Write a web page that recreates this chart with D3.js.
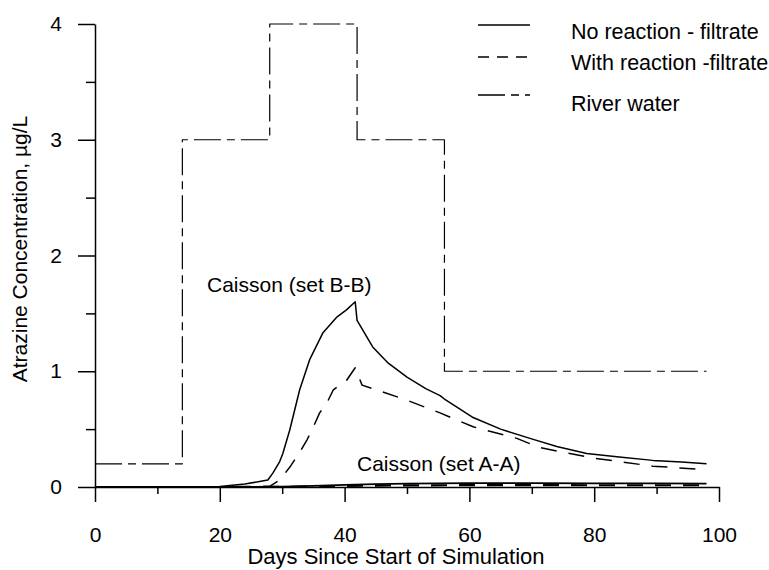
<!DOCTYPE html>
<html><head><meta charset="utf-8">
<script src="https://cdn.jsdelivr.net/npm/d3@7"></script>
<style>
body{margin:0;background:#fff;}
svg{display:block;font-family:"Liberation Sans",Arial,sans-serif;}
</style></head>
<body><svg id="c" width="769" height="570"></svg>
<script>
// Data
const riverDays = [0, 14, 14, 28, 28, 42, 42, 56, 56, 98];
const riverVals = [0.2, 0.2, 3, 3, 4, 4, 3, 3, 1, 1];

const bbNoRxnDays = [0, 10, 18, 20, 24, 27.7, 28.5, 29.6, 30.1, 31.2, 32.8, 34.4, 36.5, 38.8, 40.3, 41.7, 42, 44.5, 47, 50, 53, 55.3, 56, 58, 60.6, 65, 69.7, 74, 78.8, 84, 89.4, 94, 98];
const bbNoRxnVals = [0, 0, 0, 0.005, 0.025, 0.06, 0.12, 0.22, 0.29, 0.49, 0.84, 1.10, 1.33, 1.47, 1.53, 1.60, 1.44, 1.21, 1.07, 0.95, 0.85, 0.79, 0.76, 0.69, 0.60, 0.50, 0.42, 0.35, 0.29, 0.26, 0.23, 0.215, 0.20];

const bbRxnDays = [0, 20, 28, 29.6, 31.2, 32.8, 34, 35, 36, 37.2, 38.2, 40.3, 41.7, 42.8, 45.6, 50, 55.3, 60.6, 67.6, 71.3, 79.8, 89.4, 98];
const bbRxnVals = [0, 0, 0.005, 0.06, 0.17, 0.30, 0.41, 0.52, 0.64, 0.73, 0.84, 0.92, 1.03, 0.88, 0.83, 0.75, 0.64, 0.52, 0.42, 0.34, 0.25, 0.18, 0.15];

const aaNoRxnDays = [0, 20, 30, 35, 40, 45, 50, 60, 70, 80, 90, 98];
const aaNoRxnVals = [0, 0, 0.003, 0.01, 0.018, 0.025, 0.03, 0.033, 0.033, 0.032, 0.031, 0.03];
const aaRxnDays = [0, 20, 30, 35, 40, 45, 50, 60, 70, 80, 90, 98];
const aaRxnVals = [0, 0, 0.001, 0.005, 0.009, 0.012, 0.014, 0.016, 0.016, 0.015, 0.015, 0.015];

const xMajor = [0, 20, 40, 60, 80, 100];
const xMinor = [10, 30, 50, 70, 90];
const yMajor = [0, 1, 2, 3, 4];
const yMinor = [0.5, 1.5, 2.5, 3.5];

const legendLabels = ["No reaction - filtrate", "With reaction -filtrate", "River water"];

const FS = 21;
const svg = d3.select("#c");
const x = d3.scaleLinear().domain([0, 100]).range([95, 719]);
const y = d3.scaleLinear().domain([0, 4]).range([487, 24]);

const dashRiver = "27,6,8,6";
const dashRxn = "16,12";

// Lines
const line = d3.line().x(d => x(d[0])).y(d => y(d[1]));
const zip = (a, b) => a.map((d, i) => [d, b[i]]);

function draw(days, vals, dash, w) {
  svg.append("path").datum(zip(days, vals)).attr("d", line)
    .attr("fill", "none").attr("stroke", "#000").attr("stroke-width", w)
    .attr("stroke-dasharray", dash || null).attr("stroke-linejoin", "round");
}
draw(riverDays, riverVals, dashRiver, 1.2);
draw(bbNoRxnDays, bbNoRxnVals, null, 1.5);
draw(bbRxnDays, bbRxnVals, dashRxn, 1.5);
draw(aaNoRxnDays, aaNoRxnVals, null, 1.8);
draw(aaRxnDays, aaRxnVals, dashRxn, 2.2);

// Axes
svg.append("g").attr("transform", `translate(0,${y(0)})`)
  .call(d3.axisBottom(x).tickValues(xMajor).tickSize(15).tickSizeOuter(0).tickPadding(25).tickFormat(d3.format("d")));
svg.append("g").attr("transform", `translate(0,${y(0)})`)
  .call(d3.axisBottom(x).tickValues(xMinor).tickSize(7).tickSizeOuter(0).tickFormat(""))
  .select(".domain").remove();
svg.append("g").attr("transform", `translate(${x(0)},0)`)
  .call(d3.axisLeft(y).tickValues(yMajor).tickSize(17).tickSizeOuter(0).tickPadding(16).tickFormat(d3.format("d")));
svg.append("g").attr("transform", `translate(${x(0)},0)`)
  .call(d3.axisLeft(y).tickValues(yMinor).tickSize(9).tickSizeOuter(0).tickFormat(""))
  .select(".domain").remove();

svg.selectAll(".tick line, .domain").attr("stroke", "#000").attr("stroke-width", 1.5);
svg.selectAll(".tick text").attr("font-size", FS).attr("fill", "#000").attr("font-family", "Liberation Sans, Arial, sans-serif");

// Annotations
svg.append("text").attr("x", 207).attr("y", 292).attr("font-size", FS).text("Caisson (set B-B)");
svg.append("text").attr("x", 357).attr("y", 471).attr("font-size", FS).text("Caisson (set A-A)");

// Legend
const legY = [25, 57, 95];
const legTextY = [39, 70, 111];
const legDash = [null, "11,8", dashRiver];
legendLabels.forEach((t, i) => {
  svg.append("line").attr("x1", 478).attr("x2", 530).attr("y1", legY[i]).attr("y2", legY[i])
    .attr("stroke", "#000").attr("stroke-width", 1.3).attr("stroke-dasharray", legDash[i]);
  svg.append("text").attr("x", 571).attr("y", legTextY[i]).attr("font-size", 21.5).text(t);
});

// Axis titles
svg.append("text").attr("x", 396).attr("y", 564).attr("text-anchor", "middle")
  .attr("font-size", 22).text("Days Since Start of Simulation");
svg.append("text").attr("transform", `translate(27,249) rotate(-90)`)
  .attr("text-anchor", "middle").attr("font-size", FS).text("Atrazine Concentration, µg/L");
</script>
</body></html>
